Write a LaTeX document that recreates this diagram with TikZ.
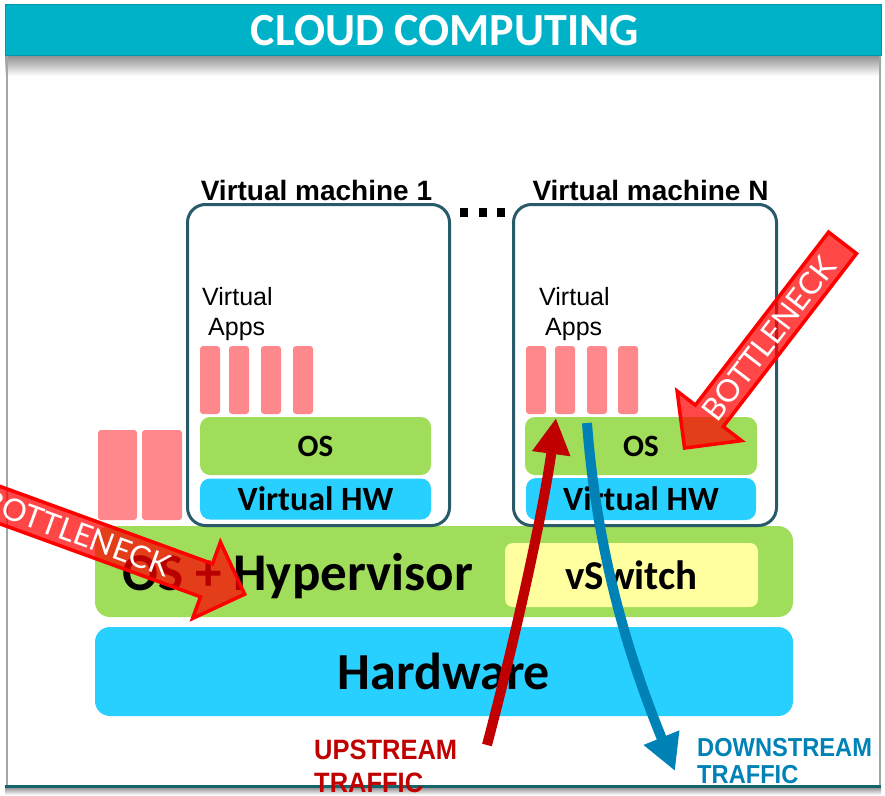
\documentclass[tikz,border=0pt]{standalone}
\usepackage{fontspec}
\setmainfont{Carlito}
\newfontfamily\arialfont{Liberation Sans}
\newfontfamily\narrowfont[FakeStretch=0.91]{Liberation Sans}
\newfontfamily\latofont{Lato}
\usetikzlibrary{shapes.arrows,arrows.meta}
\definecolor{titleteal}{RGB}{0,178,200}
\definecolor{titleedge}{RGB}{0,150,170}
\definecolor{frameteal}{RGB}{20,100,110}
\definecolor{vmborder}{RGB}{40,90,105}
\definecolor{apppink}{RGB}{255,136,140}
\definecolor{layergreen}{RGB}{160,221,90}
\definecolor{layercyan}{RGB}{40,208,255}
\definecolor{switchyellow}{RGB}{255,255,160}
\definecolor{upred}{RGB}{192,0,0}
\definecolor{downblue}{RGB}{0,130,182}
\begin{document}
\begin{tikzpicture}[x=1pt,y=-1pt,
    app bar/.style={fill=apppink, rounded corners=3pt, inner sep=0pt},
    vm box/.style={draw=vmborder, line width=3pt, rounded corners=18pt, inner sep=0pt},
    layer/.style={rounded corners=10pt, inner sep=0pt, font=\bfseries},
    vm title/.style={font=\arialfont\bfseries\fontsize{28}{28}\selectfont, inner sep=0pt, anchor=base},
    apps text/.style={font=\arialfont\fontsize{25}{30}\selectfont, align=left, inner sep=0pt, anchor=north west},
    bottleneck/.style={single arrow, draw=red, line width=3.5pt, fill=red, fill opacity=0.72,
        text opacity=1, text=white, font=\latofont\fontsize{31}{31}\selectfont,
        single arrow head extend=23pt, inner xsep=0pt, inner ysep=4.5pt},
    traffic/.style={line width=10pt, -{Triangle[width=36pt,length=36pt]}},
    traffic text/.style={font=\narrowfont\bfseries, align=left, inner sep=0pt, anchor=north west},
    ]
\useasboundingbox (0,0) rectangle (885,795);
\clip (0,0) rectangle (885,795);
% title and frame
\shade[top color=black!45, bottom color=white] (5,55) rectangle (881,76);
\shade[top color=black!40, bottom color=white] (5,788) rectangle (881,795);
\draw[draw=black!35, line width=1.5pt] (7,55) -- (7,786);
\draw[draw=black!35, line width=1.5pt] (880,55) -- (880,786);
\draw[fill=titleteal, draw=titleedge, line width=1pt] (5,4) rectangle (881,55);
\node[text=white, font=\bfseries\fontsize{46}{46}\selectfont, inner sep=0pt] (title) at (445,31) {CLOUD COMPUTING};
% host layers
\node[layer, fill=layergreen, rounded corners=15pt, minimum width=698pt, minimum height=91pt] (hyp) at (444,571.5) {};
\node[layer, fill=switchyellow, rounded corners=8pt, minimum width=253pt, minimum height=64pt,
    font=\bfseries\fontsize{41}{41}\selectfont] (vswitch) at (631.5,575) {vSwitch};
\node[layer, fill=layercyan, rounded corners=15pt, minimum width=698pt, minimum height=89pt,
    font=\bfseries\fontsize{52}{52}\selectfont] (hw) at (444,671.5) {Hardware};
\node[font=\bfseries\fontsize{53}{53}\selectfont, inner sep=0pt, anchor=base west] (hyp label) at (122,590) {OS + Hypervisor};
\node[app bar, minimum width=39pt, minimum height=90pt] (host app1) at (117.5,475) {};
\node[app bar, minimum width=40pt, minimum height=90pt] (host app2) at (162,475) {};
% virtual machines
\node[vm title] (vm1 title) at (316.5,200) {Virtual machine 1};
\node[vm title] (vmn title) at (650.5,200) {Virtual machine N};
\fill (460,208) rectangle (468,217);
\fill (479,208) rectangle (487,217);
\fill (497,208) rectangle (505,217);
\node[vm box, minimum width=262pt, minimum height=321pt] (vm1) at (318.5,365) {};
\node[vm box, minimum width=263pt, minimum height=321pt] (vmn) at (645,365) {};
\node[apps text] (vm1 apps) at (202,287) {Virtual\\\hspace{6pt}Apps};
\node[apps text] (vmn apps) at (539,287) {Virtual\\\hspace{6pt}Apps};
\node[app bar, minimum width=20pt, minimum height=68pt] (vm1 app1) at (210,380) {};
\node[app bar, minimum width=20pt, minimum height=68pt] (vm1 app2) at (239,380) {};
\node[app bar, minimum width=20pt, minimum height=68pt] (vm1 app3) at (271,380) {};
\node[app bar, minimum width=20pt, minimum height=68pt] (vm1 app4) at (303,380) {};
\node[app bar, minimum width=20pt, minimum height=68pt] (vmn app1) at (536,380) {};
\node[app bar, minimum width=20pt, minimum height=68pt] (vmn app2) at (565,380) {};
\node[app bar, minimum width=20pt, minimum height=68pt] (vmn app3) at (597,380) {};
\node[app bar, minimum width=20pt, minimum height=68pt] (vmn app4) at (628,380) {};
\node[layer, fill=layergreen, minimum width=231pt, minimum height=58pt,
    font=\bfseries\fontsize{31}{31}\selectfont] (vm1 os) at (315.5,446) {OS};
\node[layer, fill=layercyan, minimum width=231pt, minimum height=41pt,
    font=\bfseries\fontsize{34}{34}\selectfont] (vm1 vhw) at (315.5,499) {Virtual HW};
\node[layer, fill=layergreen, minimum width=232pt, minimum height=58pt,
    font=\bfseries\fontsize{31}{31}\selectfont] (vmn os) at (641,446) {OS};
\node[layer, fill=layercyan, minimum width=230pt, minimum height=42pt,
    font=\bfseries\fontsize{34}{34}\selectfont] (vmn vhw) at (641,499) {Virtual HW};
% traffic
\coordinate (up start) at (487,745);
\coordinate (up end) at (556,418);
\coordinate (down start) at (587,423);
\coordinate (down end) at (675,771);
\draw[traffic, upred] (up start) .. controls (520,620) and (545,500) .. (up end);
\draw[traffic, downblue] (down start) .. controls (598,570) and (638,680) .. (down end);
% bottlenecks
\node[bottleneck, rotate=-20, minimum height=340pt, anchor=tip] (neck host) at (247,595) {BOTTLENECK};
\node[bottleneck, rotate=52.4, shape border rotate=180, minimum height=259pt, anchor=tip] (neck vm) at (683,450) {BOTTLENECK};
\draw[draw=frameteal, line width=3pt] (5,786) -- (881,786);
\node[traffic text, text=upred, font=\narrowfont\bfseries\fontsize{28}{33}\selectfont] (up label) at (314,740) {UPSTREAM\\TRAFFIC};
\node[traffic text, text=downblue, font=\narrowfont\bfseries\fontsize{26}{27}\selectfont] (down label) at (697,738) {DOWNSTREAM\\TRAFFIC};
\end{tikzpicture}
\end{document}
